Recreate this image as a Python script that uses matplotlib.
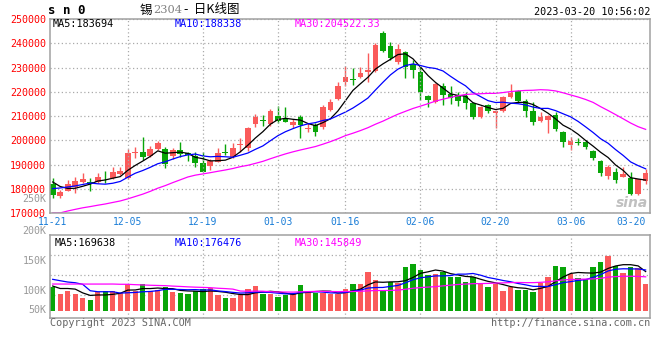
import numpy as np
import pandas as pd
import matplotlib
matplotlib.use('Agg')
import matplotlib.pyplot as plt
from matplotlib.transforms import ScaledTranslation

plt.rcParams['font.family'] = ['DejaVu Sans Mono', 'Noto Sans CJK SC']

# ---- data (SN2304 daily, 2022-11-21 .. 2023-03-20) ----
date_labels = ['11-21', '12-05', '12-19', '01-03', '01-16', '02-06', '02-20', '03-06', '03-20']
date_idx = [0, 10, 20, 30, 39, 49, 59, 69, 79]

open_ = [182060, 177250, 179300, 180950, 182760, 182760, 182760, 184500, 184410, 186060,
         184410, 194800, 195110, 193590, 196470, 196470, 193400, 196100, 194700, 193590,
         190840, 189470, 191240, 195400, 193060, 198300, 196750, 206760, 208300, 206760,
         210240, 209110, 206350, 209770, 204900, 206350, 205650, 212530, 217060, 224180,
         225290, 225990, 228300, 228710, 244110, 238880, 232400, 236300, 231600, 228300,
         218300, 215800, 222400, 219000, 218700, 218300, 215500, 209800, 214600, 211200,
         212300, 218000, 220400, 216400, 212200, 208100, 208400, 210450, 203400, 198250,
         199300, 199500, 195650, 191650, 185500, 187100, 185100, 184650, 177950, 183400]
high = [184400, 179600, 183700, 185070, 186470, 184410, 186470, 187400, 189190, 188940,
        196350, 197400, 201290, 197830, 199890, 197430, 197000, 199500, 195300, 195400,
        195360, 192230, 196750, 198530, 198820, 200880, 205650, 210750, 210470, 212820,
        214050, 213900, 208800, 210470, 207050, 207050, 214590, 217060, 224180, 230770,
        229700, 230360, 235870, 239990, 245050, 240500, 239600, 237000, 233100, 231000,
        218700, 223800, 223800, 222400, 220100, 220100, 216000, 214300, 215000, 212550,
        218400, 223300, 220800, 217000, 215900, 211800, 210600, 211800, 204000, 201350,
        200900, 200200, 196000, 192000, 189900, 188500, 188900, 187100, 184300, 188100]
low = [176180, 176200, 179200, 178230, 182350, 179180, 182350, 182350, 184000, 185770,
       184000, 192650, 191940, 193180, 196060, 188530, 192500, 193000, 191450, 189000,
       186900, 187830, 191000, 193990, 192800, 195360, 195500, 205650, 206060, 206000,
       207000, 207500, 205000, 200900, 203350, 201950, 204800, 212000, 216500, 222530,
       222820, 225580, 224180, 228300, 236400, 233100, 231500, 225600, 225600, 216650,
       213900, 215500, 214600, 215000, 214200, 212800, 208900, 209100, 211400, 205250,
       211700, 217600, 215500, 209700, 206350, 207700, 203200, 204000, 197200, 196100,
       198100, 196350, 191950, 185350, 184000, 182350, 184800, 177500, 177500, 181900]
close = [177500, 178650, 182060, 183300, 184120, 182060, 184820, 184350, 186880, 187420,
         194950, 195000, 193300, 196470, 198820, 190170, 196000, 194500, 193900, 190830,
         187130, 191530, 194950, 194950, 196760, 198500, 205000, 209770, 208000, 212120,
         208000, 207700, 207710, 206350, 205100, 203600, 213890, 215700, 222410, 226240,
         224760, 227640, 228990, 239290, 236940, 234060, 237600, 230360, 229100, 219800,
         216800, 223400, 218700, 217300, 216400, 215500, 209700, 213900, 212250, 212250,
         218000, 219650, 216200, 212300, 207700, 209800, 210000, 204600, 199300, 199700,
         199150, 197200, 192900, 186700, 188900, 183700, 186200, 177800, 184000, 186700]
volume = [101700, 73000, 85900, 73000, 55900, 47300, 83100, 85900, 85900, 78800,
          116000, 85900, 116000, 85900, 90200, 104600, 83100, 78800, 74500, 85900,
          94500, 97400, 68800, 57300, 57300, 74500, 94500, 107400, 74500, 73000,
          61600, 68800, 75900, 111700, 83100, 78800, 78800, 73000, 71500, 93100,
          116000, 116000, 166200, 133200, 85900, 124600, 118900, 189100, 202000, 176200,
          156000, 157600, 166200, 147500, 147500, 124600, 147500, 116000, 101700, 116000,
          87400, 104600, 90200, 90200, 83100, 118900, 146100, 193400, 189100, 159000,
          140400, 137500, 189100, 210600, 237800, 193400, 164700, 189100, 184800, 116000]

# earlier sessions (not shown), only needed to start the moving averages
prev_close = [157000, 158700, 163000, 165000, 167000, 168000, 169000, 168000, 169000, 168900,
              166000, 164000, 162000, 160000, 158000, 159000, 160000, 159160, 168000, 172000,
              176000, 178000, 179000, 178150, 176000, 188000, 186000, 183000, 180000]
prev_volume = [75000, 85000, 72000, 58000, 50000, 82000, 86000, 82000, 110000, 120000,
               135000, 150000, 125000, 118000, 130000, 140000, 122000, 128000, 125000, 124700,
               133000, 141900, 103000, 124900, 322300, 126100, 85900, 85900, 137300]

RED = '#fa5a5a'
GREEN = '#08a508'
GRID = '#aaaaaa'
FRAME = '#a0a0a0'

n_prev = len(prev_close)
c_all = pd.Series(prev_close + close, dtype=float)
v_all = pd.Series(prev_volume + volume, dtype=float)
ma = {w: c_all.rolling(w).mean().values[n_prev:] for w in (5, 10, 30)}
vma = {w: v_all.rolling(w).mean().values[n_prev:] for w in (5, 10, 30)}

o = np.array(open_, float)
h = np.array(high, float)
l = np.array(low, float)
c = np.array(close, float)
v = np.array(volume, float)
x = np.arange(len(c))
cols = np.where(c >= o, RED, GREEN)

W, H = 660, 360
def box(left, top, right, bottom):
    return [left / W, 1 - bottom / H, (right - left) / W, (bottom - top) / H]
def ftxt(px, py, s, **kw):
    return fig.text(px / W, 1 - py / H, s, va='center', **kw)

fig = plt.figure(figsize=(6.6, 3.6), dpi=100)
ax = fig.add_axes(box(50, 19, 650, 213.3))
axv = fig.add_axes(box(50, 234.7, 650, 318))

xlim = (-0.36, 79.58)

# price panel
ax.vlines(x, l, h, colors=cols, lw=1)
body = np.maximum(np.abs(c - o), 350)
ax.bar(x, body, bottom=np.minimum(o, c), width=0.76, color=cols, lw=0)
ax.plot(x, ma[5], color='black', lw=0.9)
ax.plot(x, ma[10], color='#0000ff', lw=0.9)
ax.plot(x, np.maximum(ma[30], 170150), color='#ff00ff', lw=0.9)
ax.set_xlim(*xlim)
ax.set_ylim(170000, 250000)
ax.set_yticks(range(170000, 250001, 10000))
ax.set_yticklabels([str(t) for t in range(170000, 250001, 10000)], color='#ff0000', fontsize=7.2)
up = ScaledTranslation(0, 0.025, fig.dpi_scale_trans)
for t in ax.get_yticklabels():
    t.set_transform(t.get_transform() + up)
ax.set_xticks(date_idx)
ax.set_xticklabels(date_labels, color='#1a7dd7', fontsize=7)
ax.get_xticklabels()[-1].set_ha('right')
ax.tick_params(length=0, pad=3)
ax.tick_params(axis='x', pad=2.6)
ax.grid(axis='y', color=GRID, ls=(0, (1, 2)), lw=0.9)
for xi in date_idx[1:-1]:
    ax.axvline(xi, color=GRID, ls=(0, (1, 2)), lw=0.9)

# volume panel
axv.bar(x, v, width=0.72, color=cols, lw=0)
axv.plot(x, vma[5], color='black', lw=0.9)
axv.plot(x, vma[10], color='#0000ff', lw=0.9)
axv.plot(x, vma[30], color='#ff00ff', lw=0.9)
axv.set_xlim(*xlim)
axv.set_ylim(-30000, 328000)
axv.set_yticks([69000, 155000, 241000])
axv.set_yticklabels([])
axv.set_xticks(date_idx[1:-1])
axv.set_xticklabels([])
axv.tick_params(length=0)
axv.grid(color=GRID, ls=(0, (1, 2)), lw=0.9)

for a in (ax, axv):
    a.set_axisbelow(True)
    for s in a.spines.values():
        s.set_color(FRAME)
        s.set_linewidth(1.1)

# texts
cjk = ['Noto Sans CJK SC', 'DejaVu Sans']
ftxt(48, 10, 's n 0', fontsize=9, fontweight='bold')
ftxt(140, 10, '锡', fontsize=9, family=cjk)
ftxt(153, 10, '2304', fontsize=8.2, color='#808080', family='DejaVu Serif')
ftxt(184, 10, '-  日K线图', fontsize=9, family=cjk)
ftxt(650, 12, '2023-03-20 10:56:02', fontsize=7.3, ha='right')
ftxt(53, 24, 'MA5:183694', fontsize=7.3, color='black')
ftxt(175, 24, 'MA10:188338', fontsize=7.3, color='#0000ff')
ftxt(295, 24, 'MA30:204522.33', fontsize=7.3, color='#ff00ff')
ftxt(55, 243, 'MA5:169638', fontsize=7.3, color='black')
ftxt(175, 243, 'MA10:176476', fontsize=7.3, color='#0000ff')
ftxt(295, 243, 'MA30:145849', fontsize=7.3, color='#ff00ff')
for lab, py in zip(['250K', '200K', '150K', '100K', '50K'], [199.5, 231, 261, 291, 310]):
    ftxt(46.5, py, lab, fontsize=7.2, color='#999999', ha='right')
ftxt(50, 323, 'Copyright 2023 SINA.COM', fontsize=7.3, color='#666666')
ftxt(650, 323, 'http://finance.sina.com.cn', fontsize=7.3, color='#666666', ha='right')
ftxt(648, 203, 'sina', fontsize=10, color='#c0c0c0', ha='right',
     family='DejaVu Sans', style='italic', fontweight='bold')

fig.savefig('out.png', dpi=100)
